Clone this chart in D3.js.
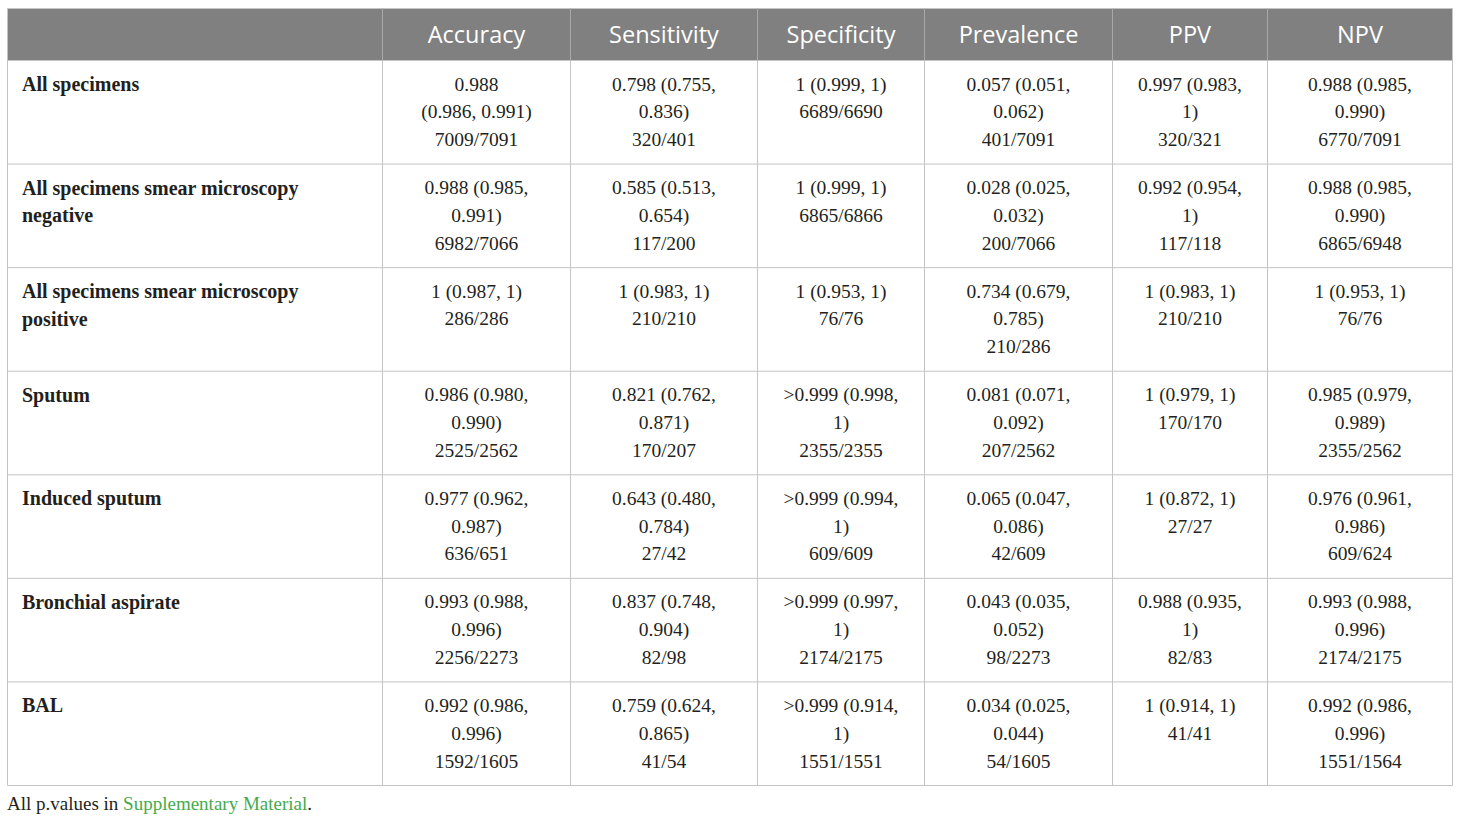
<!DOCTYPE html>
<html>
<head>
  <meta charset="utf-8">
  <title>Diagnostic performance table</title>
  <script src="https://d3js.org/d3.v7.min.js"></script>
  <style>
    body { margin: 0; background: #fff; }
    svg { display: block; }
  </style>
</head>
<body>
  <script>
    // column headers
    const columns = ["Accuracy", "Sensitivity", "Specificity", "Prevalence", "PPV", "NPV"];

    // row labels, already split the way they wrap in the picture
    const rowLabels = [
      ["All specimens"],
      ["All specimens smear microscopy", "negative"],
      ["All specimens smear microscopy", "positive"],
      ["Sputum"],
      ["Induced sputum"],
      ["Bronchial aspirate"],
      ["BAL"]
    ];

    // one array per column, each entry = lines of one cell
    const accuracy = [
      ["0.988", "(0.986, 0.991)", "7009/7091"],
      ["0.988 (0.985,", "0.991)", "6982/7066"],
      ["1 (0.987, 1)", "286/286"],
      ["0.986 (0.980,", "0.990)", "2525/2562"],
      ["0.977 (0.962,", "0.987)", "636/651"],
      ["0.993 (0.988,", "0.996)", "2256/2273"],
      ["0.992 (0.986,", "0.996)", "1592/1605"]
    ];
    const sensitivity = [
      ["0.798 (0.755,", "0.836)", "320/401"],
      ["0.585 (0.513,", "0.654)", "117/200"],
      ["1 (0.983, 1)", "210/210"],
      ["0.821 (0.762,", "0.871)", "170/207"],
      ["0.643 (0.480,", "0.784)", "27/42"],
      ["0.837 (0.748,", "0.904)", "82/98"],
      ["0.759 (0.624,", "0.865)", "41/54"]
    ];
    const specificity = [
      ["1 (0.999, 1)", "6689/6690"],
      ["1 (0.999, 1)", "6865/6866"],
      ["1 (0.953, 1)", "76/76"],
      [">0.999 (0.998,", "1)", "2355/2355"],
      [">0.999 (0.994,", "1)", "609/609"],
      [">0.999 (0.997,", "1)", "2174/2175"],
      [">0.999 (0.914,", "1)", "1551/1551"]
    ];
    const prevalence = [
      ["0.057 (0.051,", "0.062)", "401/7091"],
      ["0.028 (0.025,", "0.032)", "200/7066"],
      ["0.734 (0.679,", "0.785)", "210/286"],
      ["0.081 (0.071,", "0.092)", "207/2562"],
      ["0.065 (0.047,", "0.086)", "42/609"],
      ["0.043 (0.035,", "0.052)", "98/2273"],
      ["0.034 (0.025,", "0.044)", "54/1605"]
    ];
    const ppv = [
      ["0.997 (0.983,", "1)", "320/321"],
      ["0.992 (0.954,", "1)", "117/118"],
      ["1 (0.983, 1)", "210/210"],
      ["1 (0.979, 1)", "170/170"],
      ["1 (0.872, 1)", "27/27"],
      ["0.988 (0.935,", "1)", "82/83"],
      ["1 (0.914, 1)", "41/41"]
    ];
    const npv = [
      ["0.988 (0.985,", "0.990)", "6770/7091"],
      ["0.988 (0.985,", "0.990)", "6865/6948"],
      ["1 (0.953, 1)", "76/76"],
      ["0.985 (0.979,", "0.989)", "2355/2562"],
      ["0.976 (0.961,", "0.986)", "609/624"],
      ["0.993 (0.988,", "0.996)", "2174/2175"],
      ["0.992 (0.986,", "0.996)", "1551/1564"]
    ];
    const cellData = [accuracy, sensitivity, specificity, prevalence, ppv, npv];

    const footnote = "All p.values in ";
    const footnoteLink = "Supplementary Material";

    // layout
    const W = 1460, H = 822;
    const tLeft = 7.5, tRight = 1452.5, tTop = 8.5, headerBottom = 60.5, tBottom = 785.5;
    const labelColWidth = 375;
    const colWidths = [188, 187, 167, 188, 155, 185];
    const lineH = 27.8;
    const serif = "'Liberation Serif', 'Times New Roman', serif";
    const sans = "'Open Sans', 'Noto Sans', sans-serif";
    const gridColor = "#c4c4c4";
    const ink = "#231f20";

    // cumulative column edges
    const edges = [tLeft, tLeft + labelColWidth];
    colWidths.forEach(w => edges.push(edges[edges.length - 1] + w));
    edges[edges.length - 1] = tRight;

    const x = d3.scaleOrdinal().domain(columns)
      .range(columns.map((c, i) => (edges[i + 1] + edges[i + 2]) / 2));
    const y = d3.scaleBand().domain(d3.range(rowLabels.length))
      .range([headerBottom, tBottom]).paddingInner(0).paddingOuter(0);

    const svg = d3.select("body").append("svg")
      .attr("width", W).attr("height", H);

    // header band
    svg.append("rect")
      .attr("x", tLeft).attr("y", tTop)
      .attr("width", tRight - tLeft).attr("height", headerBottom - tTop)
      .attr("fill", "#808080");

    svg.append("g").selectAll("text")
      .data(columns).join("text")
      .attr("x", d => x(d))
      .attr("y", (tTop + headerBottom) / 2)
      .attr("dy", "0.36em")
      .attr("text-anchor", "middle")
      .attr("fill", "#fff")
      .attr("font-family", sans)
      .attr("font-size", 23.5)
      .text(d => d);

    // grid lines
    const grid = svg.append("g")
      .attr("stroke", gridColor).attr("stroke-width", 1).attr("fill", "none");

    grid.selectAll("line.h")
      .data(d3.range(rowLabels.length + 1)).join("line")
      .attr("class", "h")
      .attr("x1", tLeft).attr("x2", tRight)
      .attr("y1", i => i < rowLabels.length ? y(i) : tBottom)
      .attr("y2", i => i < rowLabels.length ? y(i) : tBottom);

    grid.append("line")
      .attr("x1", tLeft).attr("x2", tRight).attr("y1", tTop).attr("y2", tTop);

    grid.selectAll("line.v")
      .data(edges).join("line")
      .attr("class", "v")
      .attr("x1", d => d).attr("x2", d => d)
      .attr("y1", tTop).attr("y2", tBottom);

    // header separators are lighter over the gray band
    svg.append("g").selectAll("line")
      .data(edges.slice(1, -1)).join("line")
      .attr("x1", d => d).attr("x2", d => d)
      .attr("y1", tTop).attr("y2", headerBottom)
      .attr("stroke", "#a8a8a8");

    // row labels
    const rows = svg.append("g").selectAll("g")
      .data(rowLabels).join("g")
      .attr("transform", (d, i) => `translate(0,${y(i)})`);

    rows.append("text")
      .attr("font-family", serif)
      .attr("font-weight", "bold")
      .attr("font-size", 20)
      .attr("fill", ink)
      .selectAll("tspan")
      .data(d => d).join("tspan")
      .attr("x", 22)
      .attr("y", (d, i) => 30.5 + i * lineH)
      .text(d => d);

    // body cells
    cellData.forEach((col, ci) => {
      rows.append("text")
        .attr("font-family", serif)
        .attr("font-size", 19.5)
        .attr("fill", ink)
        .attr("text-anchor", "middle")
        .selectAll("tspan")
        .data((d, ri) => col[ri]).join("tspan")
        .attr("x", x(columns[ci]))
        .attr("y", (d, i) => 30 + i * lineH)
        .text(d => d);
    });

    // footnote
    const foot = svg.append("text")
      .attr("x", 7).attr("y", 810)
      .attr("font-family", serif)
      .attr("font-size", 19)
      .attr("fill", ink);
    foot.append("tspan").text(footnote);
    foot.append("tspan").attr("fill", "#45ab4c").text(footnoteLink);
    foot.append("tspan").text(".");
  </script>
</body>
</html>
